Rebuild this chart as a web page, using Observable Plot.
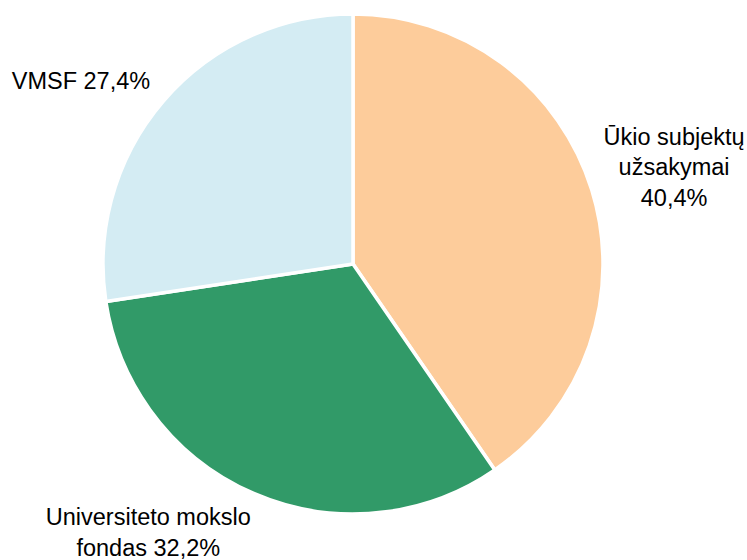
<!DOCTYPE html>
<html>
<head>
<meta charset="utf-8">
<script src="https://cdn.jsdelivr.net/npm/d3@7"></script>
<script src="https://cdn.jsdelivr.net/npm/@observablehq/plot@0.6"></script>
<style>
  html, body { margin: 0; padding: 0; background: #ffffff; }
  #chart { width: 747px; height: 560px; }
</style>
</head>
<body>
<div id="chart"></div>
<script>
// Data (clockwise from 12 o'clock)
const categories = ["Ūkio subjektų užsakymai", "Universiteto mokslo fondas", "VMSF"];
const shares = [40.4, 32.2, 27.4];
const labelTexts = ["Ūkio subjektų\nužsakymai\n40,4%", "Universiteto mokslo\nfondas 32,2%", "VMSF 27,4%"];
const colors = ["#fdcc9b", "#319a68", "#d4ecf3"];

const pie = d3.pie().sort(null).value(d => d.share);
const rows = categories.map((c, i) => ({category: c, share: shares[i], label: labelTexts[i], color: colors[i]}));
const arcs = pie(rows).map(a => {
  const mid = (a.startAngle + a.endAngle) / 2;
  return {...a, mid, lx: 1.1 * Math.sin(mid), ly: 1.1 * Math.cos(mid)};
});

function pieMark(index, scales) {
  const cx = scales.x(0), cy = scales.y(0);
  const R = scales.x(1) - scales.x(0);
  const arcGen = d3.arc().innerRadius(0).outerRadius(R);
  const g = d3.create("svg:g").attr("transform", `translate(${cx},${cy})`);
  g.selectAll("path")
    .data(arcs)
    .join("path")
    .attr("d", arcGen)
    .attr("fill", d => d.data.color)
    .attr("stroke", "#ffffff")
    .attr("stroke-width", 3.5)
    .attr("stroke-linejoin", "miter");
  return g.node();
}

const textStyle = {
  x: "lx", y: "ly", text: d => d.data.label,
  fontFamily: "Liberation Sans, Arial, sans-serif",
  fontSize: 23.5, lineHeight: 1.28, fill: "#000000", textAnchor: "middle"
};

const chart = Plot.plot({
  width: 747,
  height: 560,
  margin: 0,
  x: {domain: [-1, 1], range: [103, 603], axis: null},
  y: {domain: [-1, 1], range: [514, 14], axis: null},
  marks: [
    pieMark,
    Plot.text(arcs.filter((d, i) => i === 0), {...textStyle, dx: 58, dy: -17}),
    Plot.text(arcs.filter((d, i) => i === 1), {...textStyle, dx: -96, dy: 14}),
    Plot.text(arcs.filter((d, i) => i === 2), {...textStyle, dx: -64, dy: -6})
  ]
});
document.getElementById("chart").appendChild(chart);
</script>
</body>
</html>
